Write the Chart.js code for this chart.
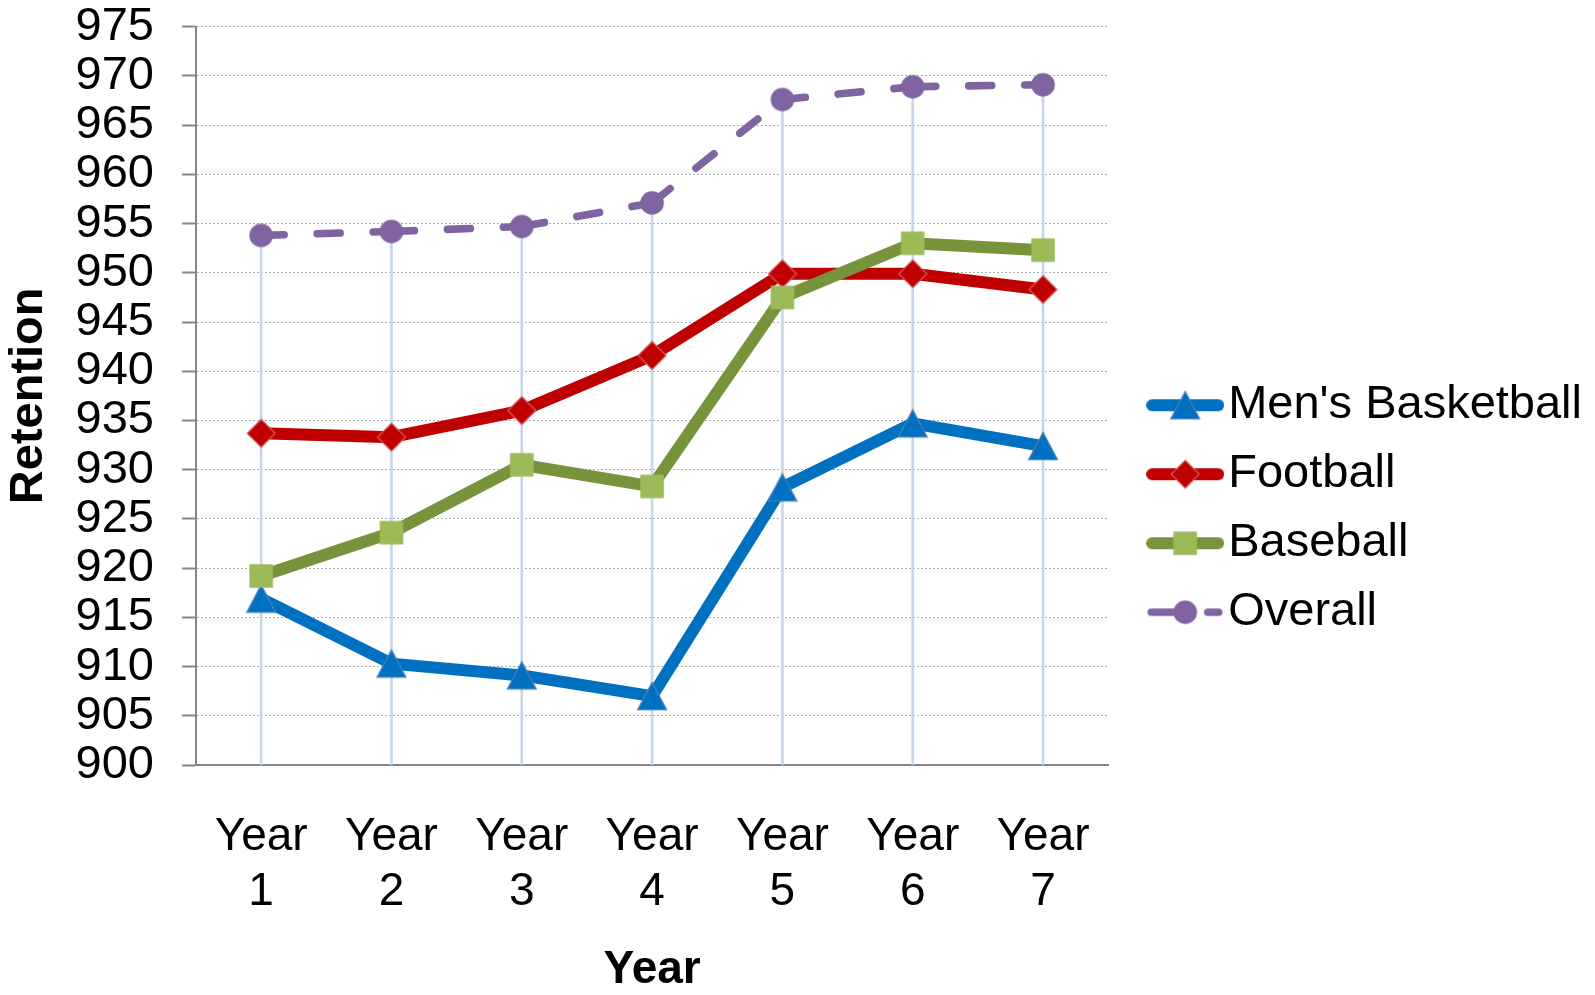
<!DOCTYPE html>
<html>
<head>
<meta charset="utf-8">
<title>Retention by Year</title>
<script src="https://cdn.jsdelivr.net/npm/chart.js@4.4.1/dist/chart.umd.min.js"></script>
<style>
  html, body { margin: 0; padding: 0; background: #ffffff; }
  #wrap { width: 1595px; height: 995px; }
</style>
</head>
<body>
<div id="wrap"><canvas id="chart" width="1595" height="995"></canvas></div>
<script>
// ---- data ----
const years = ['Year 1', 'Year 2', 'Year 3', 'Year 4', 'Year 5', 'Year 6', 'Year 7'];
const mensBasketball = [916.9, 910.3, 909.1, 907.0, 928.2, 934.7, 932.4];
const football       = [933.7, 933.3, 936.0, 941.6, 949.9, 949.9, 948.3];
const baseball       = [919.2, 923.6, 930.5, 928.3, 947.5, 953.0, 952.3];
const overall        = [953.8, 954.2, 954.7, 957.1, 967.6, 968.9, 969.1];
const yMin = 900, yMax = 975, yStep = 5;

const FONT = '"Liberation Sans", Arial, sans-serif';

// ---- marker and legend icon drawing ----
function makeCanvas(w, h) {
  const c = document.createElement('canvas');
  c.width = w; c.height = h;
  return c;
}

function drawMarker(ctx, kind, cx, cy) {
  ctx.save();
  ctx.beginPath();
  if (kind === 'triangle') {
    const w = 29, h = 27.5;
    ctx.moveTo(cx, cy - h / 2);
    ctx.lineTo(cx + w / 2, cy + h / 2);
    ctx.lineTo(cx - w / 2, cy + h / 2);
    ctx.closePath();
    ctx.fillStyle = '#0070C0';
    ctx.fill();
    ctx.strokeStyle = '#4F81BD';
    ctx.lineWidth = 1.2;
    ctx.stroke();
  } else if (kind === 'diamond') {
    const r = 14;
    ctx.moveTo(cx, cy - r);
    ctx.lineTo(cx + r, cy);
    ctx.lineTo(cx, cy + r);
    ctx.lineTo(cx - r, cy);
    ctx.closePath();
    ctx.fillStyle = '#C00000';
    ctx.fill();
    ctx.strokeStyle = '#D2605E';
    ctx.lineWidth = 1.2;
    ctx.stroke();
  } else if (kind === 'square') {
    const s = 23.5;
    ctx.rect(cx - s / 2, cy - s / 2, s, s);
    ctx.fillStyle = '#9BBB59';
    ctx.fill();
  } else if (kind === 'circle') {
    ctx.arc(cx, cy, 11.8, 0, Math.PI * 2);
    ctx.fillStyle = '#8064A2';
    ctx.fill();
  }
  ctx.restore();
}

function markerImage(kind) {
  const c = makeCanvas(32, 32);
  drawMarker(c.getContext('2d'), kind, 16, 16);
  return c;
}

function legendIcon(kind, color, width, dashed) {
  const c = makeCanvas(78, 32);
  const ctx = c.getContext('2d');
  ctx.strokeStyle = color;
  ctx.lineWidth = width;
  ctx.lineCap = 'round';
  ctx.beginPath();
  if (dashed) {
    ctx.moveTo(5, 16); ctx.lineTo(39, 16);
    ctx.moveTo(61.5, 16); ctx.lineTo(72.5, 16);
  } else {
    ctx.moveTo(6, 16); ctx.lineTo(72, 16);
  }
  ctx.stroke();
  drawMarker(ctx, kind, 39, 16);
  return c;
}

const series = [
  { label: "Men's Basketball", data: mensBasketball, color: '#0070C0', width: 12, marker: 'triangle', dashed: false },
  { label: 'Football',         data: football,       color: '#C00000', width: 12, marker: 'diamond',  dashed: false },
  { label: 'Baseball',         data: baseball,       color: '#77933C', width: 12, marker: 'square',   dashed: false },
  { label: 'Overall',          data: overall,        color: '#8064A2', width: 7.6, marker: 'circle',  dashed: true }
];

// vertical drop lines from the highest value of each year to the axis
const dropLines = years.map((_, i) => [yMin, Math.max(...series.map(s => s.data[i]))]);

const lineDatasets = series.map((s, i) => ({
  type: 'line',
  label: s.label,
  data: s.data,
  borderColor: s.color,
  backgroundColor: s.color,
  borderWidth: s.width,
  borderCapStyle: 'round',
  borderJoinStyle: 'round',
  borderDash: s.dashed ? [23, 33] : [],
  // restart the dash pattern at every point
  segment: s.dashed ? { borderDashOffset: c => (c.p0DataIndex % 2 ? 0.001 : 0) } : undefined,
  pointStyle: markerImage(s.marker),
  pointRadius: 14,
  tension: 0,
  fill: false,
  order: series.length - i
}));

const legendIcons = series.map(s => legendIcon(s.marker, s.color, s.width, s.dashed));

new Chart(document.getElementById('chart'), {
  type: 'line',
  data: {
    labels: years,
    datasets: [
      ...lineDatasets,
      {
        type: 'bar',
        label: 'drop',
        data: dropLines,
        backgroundColor: '#C8D6EA',
        borderWidth: 0,
        barThickness: 2,
        order: 10
      }
    ]
  },
  options: {
    responsive: false,
    animation: false,
    events: [],
    layout: { padding: { left: 0, top: 0, right: 3, bottom: 0 } },
    plugins: {
      tooltip: { enabled: false },
      legend: {
        position: 'right',
        align: 'center',
        maxWidth: 520,
        title: { display: true, text: ' ', font: { size: 1, lineHeight: 1 }, padding: { top: 21.4, bottom: 0 } },
        labels: {
          usePointStyle: true,
          pointStyleWidth: 39,
          padding: 22,
          color: '#000000',
          font: { family: FONT, size: 47 },
          generateLabels: () => series.map((s, i) => ({
            text: s.label,
            pointStyle: legendIcons[i],
            fillStyle: s.color,
            strokeStyle: s.color,
            lineWidth: 0,
            hidden: false,
            datasetIndex: i,
            fontColor: '#000000'
          }))
        }
      }
    },
    scales: {
      x: {
        type: 'category',
        offset: true,
        grid: { display: false, drawTicks: false },
        border: { display: true, color: '#868686', width: 2 },
        ticks: {
          color: '#000000',
          font: { family: FONT, size: 46, lineHeight: 1.2 },
          padding: 45,
          maxRotation: 0,
          minRotation: 0,
          autoSkip: false,
          callback: (v, i) => years[i].split(' ')
        },
        title: {
          display: true,
          text: 'Year',
          color: '#000000',
          font: { family: FONT, size: 46, weight: 'bold', lineHeight: 1 },
          padding: { top: 26, bottom: 2 }
        },
        afterFit: s => { s.height = 230; s.paddingLeft = 0; s.paddingRight = 0; }
      },
      y: {
        type: 'linear',
        position: 'left',
        min: yMin,
        max: yMax,
        ticks: {
          stepSize: yStep,
          autoSkip: false,
          color: '#000000',
          padding: 28,
          font: { family: FONT, size: 47, lineHeight: 1 }
        },
        grid: {
          color: '#ADADAD',
          lineWidth: 1,
          drawTicks: true,
          tickLength: 14,
          tickColor: '#868686',
          tickWidth: 2
        },
        border: { display: true, color: '#868686', width: 2, dash: [2, 2] },
        title: {
          display: true,
          text: 'Retention',
          color: '#000000',
          font: { family: FONT, size: 47, weight: 'bold', lineHeight: 1 },
          padding: { top: 6, bottom: 24 }
        },
        afterFit: s => { s.width = 196; s.paddingTop = 26.7; s.paddingBottom = 0; }
      },
      gap: {
        type: 'linear',
        position: 'right',
        display: true,
        grid: { display: false, drawTicks: false },
        border: { display: false },
        ticks: { display: false },
        afterFit: s => { s.width = 35.5; s.paddingTop = 0; s.paddingBottom = 0; }
      }
    }
  }
});
</script>
</body>
</html>
